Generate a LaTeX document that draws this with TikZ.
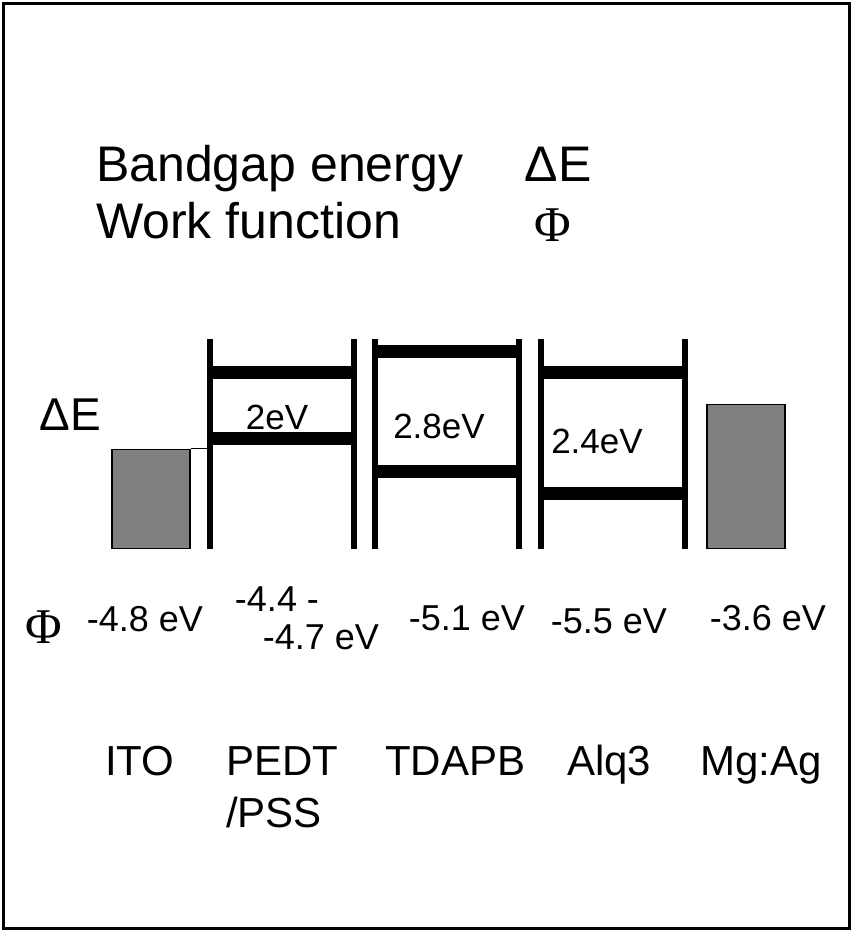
\documentclass[tikz,border=0pt]{standalone}
\usepackage{fontspec}
\setmainfont{Liberation Sans}
\newfontfamily\symfont{Liberation Serif}
\usetikzlibrary{positioning}
\definecolor{MetalGrey}{HTML}{808080}
\tikzset{
    % frame round the whole figure
    frame/.style={
        draw=black,
        line width=3.5pt
    },
    % one organic layer: empty box, walls and levels drawn on it
    layer/.style={
        rectangle,
        inner sep=0pt,
        minimum width=144pt,
        minimum height=210pt,
        anchor=north west
    },
    wall/.style={
        draw=black,
        line width=6pt
    },
    level/.style={
        draw=black,
        line width=13pt
    },
    % electrodes
    metal/.style={
        rectangle,
        draw=black,
        fill=MetalGrey,
        line width=1.5pt,
        inner sep=0pt,
        minimum width=78pt,
        anchor=south west
    },
    title/.style={
        font=\fontsize{50}{52}\selectfont,
        inner sep=0pt,
        anchor=base west
    },
    greek/.style={
        font=\symfont\fontsize{50}{52}\selectfont,
        inner sep=0pt
    },
    gaplabel/.style={
        font=\fontsize{35}{37}\selectfont,
        inner sep=0pt
    },
    phivalue/.style={
        font=\fontsize{36}{38}\selectfont,
        inner sep=0pt
    },
    material/.style={
        font=\fontsize{42}{52}\selectfont,
        inner sep=0pt,
        align=left,
        anchor=base west
    }
}

\begin{document}
\begin{tikzpicture}[x=1pt, y=-1pt]
    \useasboundingbox (0,0) rectangle (853,932);
    \draw[frame] (3.5,3.5) rectangle (849.5,928.5);

    % Legend
    \node[title] (gaptxt) at (96,181) {Bandgap energy};
    \node[title] (worktxt) at (96,238) {Work function};
    \node[title] (gapsym) at (524,181) {Δ\kern1ptE};
    \node[greek] (worksym) at (553,225) {Φ};

    % Electrodes
    \node[metal, minimum height=99pt] (ito) at (111,549) {};
    \node[metal, minimum height=144pt] (mgag) at (706,549) {};

    % Organic layers
    \foreach \name/\x/\top/\bot in {pedt/210/33/99, tdapb/375/12/132, alq/541/33/154}{
        \node[layer] (\name) at (\x,339) {};
        \draw[level] ([yshift=-\top pt]\name.north west) -- ([yshift=-\top pt]\name.north east);
        \draw[level] ([yshift=-\bot pt]\name.north west) -- ([yshift=-\bot pt]\name.north east);
        \draw[wall] (\name.north west) -- (\name.south west);
        \draw[wall] (\name.north east) -- (\name.south east);
    }
    \draw[line width=1pt] (ito.north east) -- (ito.north east -| pedt.west);

    % Band gaps
    \node[title, font=\fontsize{46}{48}\selectfont] (gaphead) at (39,430) {Δ\kern1ptE};
    \node[gaplabel] (gappedt) at (277,417) {2eV};
    \node[gaplabel] (gaptdapb) at (439,426) {2.8eV};
    \node[gaplabel] (gapalq) at (597,441) {2.4eV};

    % Work functions
    \node[greek] (phihead) at (44,627) {Φ};
    \node[phivalue] (phiito) at (145,619) {-4.8 eV};
    \node[phivalue] (phipedta) at (277,599) {-4.4 -};
    \node[phivalue] (phipedtb) at (321,637) {-4.7 eV};
    \node[phivalue] (phitdapb) at (467,618) {-5.1 eV};
    \node[phivalue] (phialq) at (609,621) {-5.5 eV};
    \node[phivalue] (phimgag) at (768,618) {-3.6 eV};

    % Materials (PEDT/PSS sits on its second line)
    \node[material] (nameito) at (105,775) {ITO};
    \node[material] (namepedt) at (226,827) {PEDT\\/PSS};
    \node[material] (nametdapb) at (385,775) {TDAPB};
    \node[material] (namealq) at (567,775) {Alq3};
    \node[material] (namemgag) at (700,775) {Mg:Ag};
\end{tikzpicture}
\end{document}
